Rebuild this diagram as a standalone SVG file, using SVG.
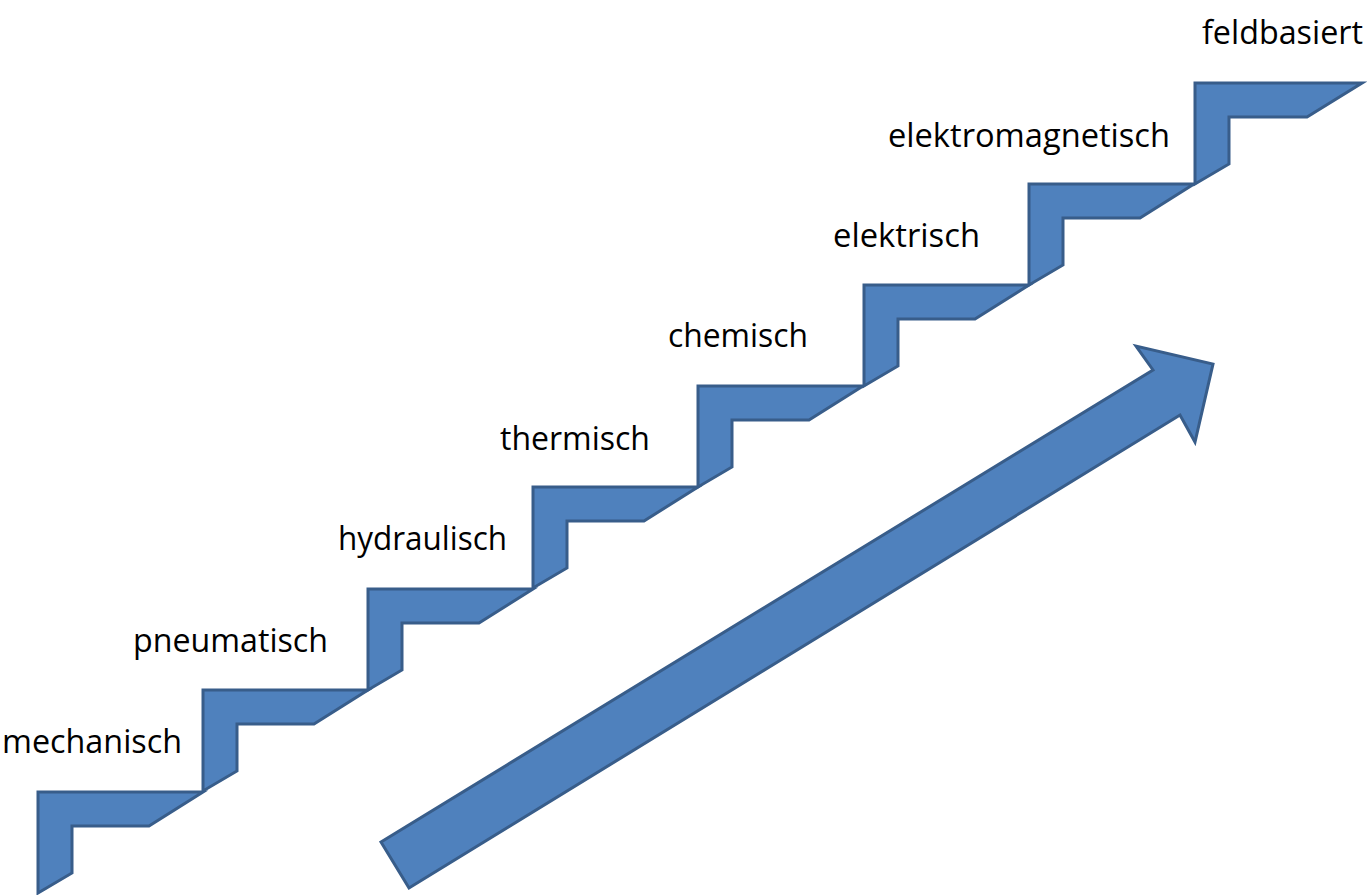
<svg xmlns="http://www.w3.org/2000/svg" xmlns:xlink="http://www.w3.org/1999/xlink" width="1367" height="895" viewBox="0 0 1367 895">
<style>
.shape{fill:#4F81BD;stroke:#385D8A;stroke-width:3;stroke-linejoin:miter}
.lbl{font-family:"Open Sans","Noto Sans","Liberation Sans",sans-serif;font-size:32px;fill:#000}
</style>
<defs>
<polygon id="step" points="0,0 165,0 111,34 34,34 34,81 0,101"/>
<polygon id="step-top" points="0,0 167,0 112,34 34,34 34,81 0,101"/>
</defs>
<rect width="1367" height="895" fill="#fff"/>
<g id="steps">
<g id="step-mechanisch"><use href="#step" class="shape" x="38" y="792"/><text class="lbl" x="2" y="753" textLength="180" lengthAdjust="spacingAndGlyphs">mechanisch</text></g>
<g id="step-pneumatisch"><use href="#step" class="shape" x="203" y="690"/><text class="lbl" x="133" y="652" textLength="195" lengthAdjust="spacingAndGlyphs">pneumatisch</text></g>
<g id="step-hydraulisch"><use href="#step" class="shape" x="368" y="589"/><text class="lbl" x="338" y="550" textLength="169" lengthAdjust="spacingAndGlyphs">hydraulisch</text></g>
<g id="step-thermisch"><use href="#step" class="shape" x="533" y="487"/><text class="lbl" x="500" y="450" textLength="150" lengthAdjust="spacingAndGlyphs">thermisch</text></g>
<g id="step-chemisch"><use href="#step" class="shape" x="698" y="386"/><text class="lbl" x="668" y="347" textLength="140" lengthAdjust="spacingAndGlyphs">chemisch</text></g>
<g id="step-elektrisch"><use href="#step" class="shape" x="864" y="285"/><text class="lbl" x="833" y="247" textLength="147" lengthAdjust="spacingAndGlyphs">elektrisch</text></g>
<g id="step-elektromagnetisch"><use href="#step" class="shape" x="1029" y="184"/><text class="lbl" x="888" y="147" textLength="282" lengthAdjust="spacingAndGlyphs">elektromagnetisch</text></g>
<g id="step-feldbasiert"><use href="#step-top" class="shape" x="1195" y="83"/><text class="lbl" x="1202" y="44" textLength="161" lengthAdjust="spacingAndGlyphs">feldbasiert</text></g>
</g>
<g id="connectors">
<polygon id="arrow" class="shape" points="381,842 1153,370 1136,346 1213,364 1195,442 1180,415 409,888"/>
</g>
</svg>
